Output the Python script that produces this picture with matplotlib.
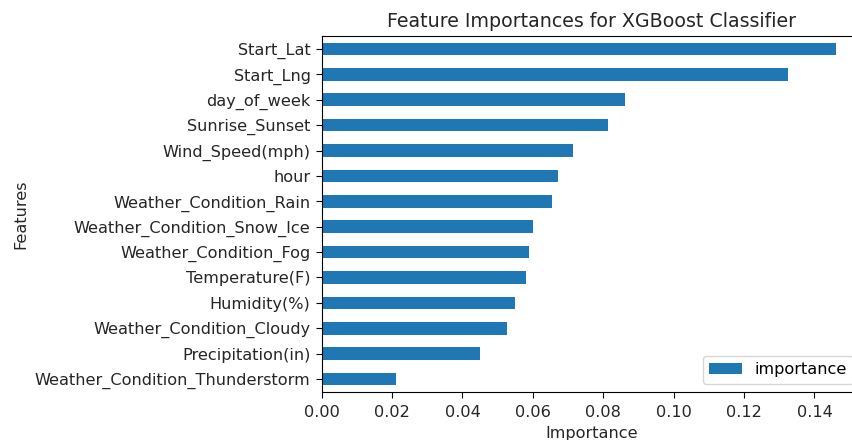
import matplotlib
matplotlib.use("Agg")
import matplotlib.pyplot as plt
import numpy as np

features = ["Start_Lat", "Start_Lng", "day_of_week", "Sunrise_Sunset", "Wind_Speed(mph)",
            "hour", "Weather_Condition_Rain", "Weather_Condition_Snow_Ice",
            "Weather_Condition_Fog", "Temperature(F)", "Humidity(%)",
            "Weather_Condition_Cloudy", "Precipitation(in)", "Weather_Condition_Thunderstorm"]
importance = [0.1460, 0.1326, 0.0862, 0.0814, 0.0715, 0.0672, 0.0655, 0.0599,
              0.0590, 0.0580, 0.0549, 0.0526, 0.0450, 0.0211]

W, H = 852, 440
fig = plt.figure(figsize=(W/100, H/100), dpi=100)
left, right = 321.7, 861.3
top, bottom = 36.3, 391.7
ax = fig.add_axes([left/W, 1 - bottom/H, (right-left)/W, (bottom-top)/H])

fs = 11.6
feats_r = features[::-1]
vals_r = importance[::-1]
y = np.arange(len(feats_r))
ax.barh(y, vals_r, height=0.5, color="#1f77b4", label="importance")
ax.set_yticks(y)
ax.set_yticklabels(feats_r, fontsize=fs, color="#262626")
ax.set_ylim(-0.5, len(feats_r) - 0.5)
ax.set_xlim(0, max(importance) * 1.05)
ax.set_xticks([0.0, 0.02, 0.04, 0.06, 0.08, 0.10, 0.12, 0.14])
ax.set_xticklabels(["0.00", "0.02", "0.04", "0.06", "0.08", "0.10", "0.12", "0.14"])
ax.tick_params(axis="x", labelsize=fs, labelcolor="#262626", pad=5)
ax.tick_params(length=4.5)
ax.set_xlabel("Importance", fontsize=fs, color="#262626", labelpad=4.5)
ax.set_ylabel("Features", fontsize=fs, color="#262626", labelpad=5)
ax.set_title("Feature Importances for XGBoost Classifier", fontsize=13.7, color="#262626", pad=7)
ax.legend(loc="lower right", fontsize=fs)

fig.savefig("out.png", dpi=100)
